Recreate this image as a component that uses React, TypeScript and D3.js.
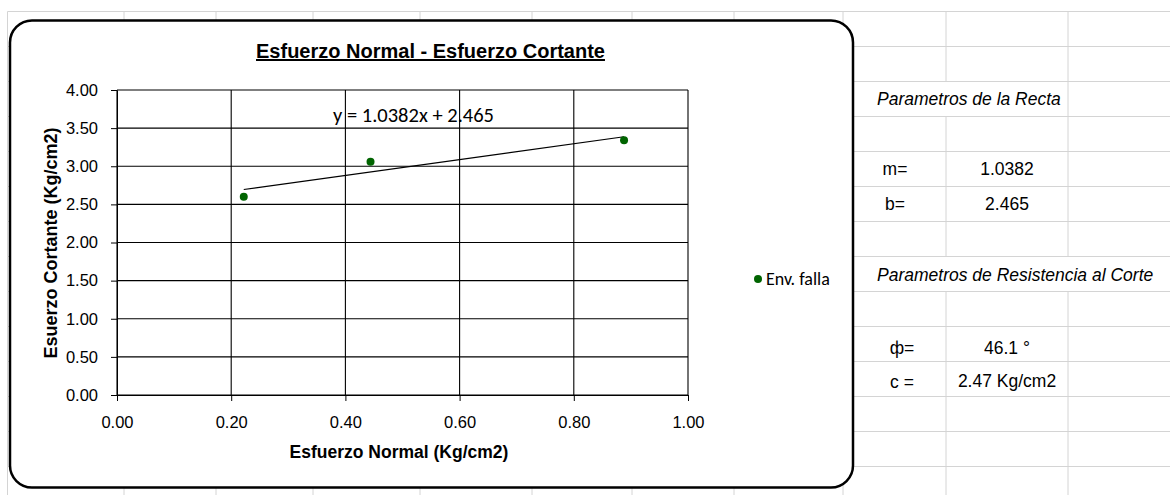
import React, { useEffect, useRef } from 'react'
import * as d3 from 'd3'

// chart data
const normalStress = [0.222, 0.444, 0.888]
const shearStress = [2.6, 3.06, 3.34]
const trendSlope = 1.0382
const trendIntercept = 2.465
const xTicks = [0, 0.2, 0.4, 0.6, 0.8, 1.0]
const yTicks = [0, 0.5, 1.0, 1.5, 2.0, 2.5, 3.0, 3.5, 4.0]

const chartTitle = 'Esfuerzo Normal - Esfuerzo Cortante'
const xTitle = 'Esfuerzo Normal (Kg/cm2)'
const yTitle = 'Esuerzo Cortante (Kg/cm2)'
const seriesName = 'Env. falla'
const trendLabel = 'y = 1.0382x + 2.465'

// sheet cells on the right
const rectaTitle = 'Parametros de la Recta'
const rectaLabels = ['m=', 'b=']
const rectaValues = ['1.0382', '2.465']
const corteTitle = 'Parametros de Resistencia al Corte'
const corteLabels = ['ф=', 'c =']
const corteValues = ['46.1 °', '2.47 Kg/cm2']

const W = 1170
const H = 495
const ARIAL = 'Liberation Sans, Arial, sans-serif'
const CALIBRI = 'Carlito, Lato, sans-serif'

export default function App() {
  const ref = useRef<SVGSVGElement>(null)

  useEffect(() => {
    visualize()
  }, [])

  function visualize() {
    const svg = d3.select(ref.current)
    svg.selectAll('*').remove()

    // spreadsheet grid behind the chart
    const cols = [7.5, 124, 216, 313, 420, 532, 632, 734, 843, 946, 1068]
    const rows = d3.range(14).map(i => 11.5 + i * 35)
    const sheet = svg.append('g').attr('stroke', '#d4d4d4').attr('stroke-width', 1)

    rows.forEach(r => {
      sheet.append('line').attr('x1', 7.5).attr('x2', W).attr('y1', r).attr('y2', r)
    })
    // merged cells hide some column lines
    const skip: Record<number, number[]> = { 946: [2, 7], 1068: [7] }
    cols.forEach(c => {
      const bands = rows.map((r, i) => [r, i < rows.length - 1 ? rows[i + 1] : H, i])
      bands.forEach(([y0, y1, i]) => {
        if (skip[c] && skip[c].includes(i)) return
        sheet.append('line').attr('x1', c).attr('x2', c).attr('y1', y0).attr('y2', y1)
      })
    })

    const txt = (sel, s, x, y, opts: any = {}) =>
      sel.append('text')
        .attr('x', x).attr('y', y)
        .attr('font-family', opts.family || ARIAL)
        .attr('font-size', opts.size || 17.5)
        .attr('font-style', opts.italic ? 'italic' : 'normal')
        .attr('font-weight', opts.bold ? 'bold' : 'normal')
        .attr('text-anchor', opts.anchor || 'start')
        .attr('fill', '#000')
        .text(s)

    const cells = svg.append('g')
    txt(cells, rectaTitle, 877, 105, { italic: true })
    rectaLabels.forEach((l, i) => {
      txt(cells, l, 895, 175 + i * 35, { anchor: 'middle' })
      txt(cells, rectaValues[i], 1007, 175 + i * 35, { anchor: 'middle' })
    })
    txt(cells, corteTitle, 877, 281, { italic: true })
    corteLabels.forEach((l, i) => {
      txt(cells, l, 902, 354 + i * 34, { anchor: 'middle' })
      txt(cells, corteValues[i], 1007, 354 + i * 33, { anchor: 'middle' })
    })

    // chart box
    svg.append('rect')
      .attr('x', 10).attr('y', 20.5)
      .attr('width', 843).attr('height', 467)
      .attr('rx', 22).attr('ry', 22)
      .attr('fill', '#fff')
      .attr('stroke', '#000')
      .attr('stroke-width', 2.5)

    const x = d3.scaleLinear().domain([0, 1]).range([117, 688])
    const y = d3.scaleLinear().domain([0, 4]).range([395, 90])

    const grid = svg.append('g').attr('stroke', '#000').attr('stroke-width', 1.1)
    xTicks.forEach(t => {
      grid.append('line').attr('x1', x(t)).attr('x2', x(t)).attr('y1', y(0)).attr('y2', y(4))
    })
    yTicks.forEach(t => {
      grid.append('line').attr('x1', x(0)).attr('x2', x(1)).attr('y1', y(t)).attr('y2', y(t))
    })

    const fmt = d3.format('.2f')
    const yAxis = svg.append('g')
      .attr('transform', `translate(${x(0)},0)`)
      .call(d3.axisLeft(y).tickValues(yTicks).tickFormat(fmt).tickSize(6).tickSizeOuter(0).tickPadding(13))
    const xAxis = svg.append('g')
      .attr('transform', `translate(0,${y(0)})`)
      .call(d3.axisBottom(x).tickValues(xTicks).tickFormat(fmt).tickSize(6).tickSizeOuter(0).tickPadding(15))
    ;[xAxis, yAxis].forEach(a => {
      a.attr('font-family', ARIAL).attr('font-size', 16.5)
      a.select('.domain').attr('stroke', '#000')
      a.selectAll('.tick line').attr('stroke', '#000')
      a.selectAll('.tick text').attr('fill', '#000')
    })

    // trendline
    const xs = d3.extent(normalStress) as [number, number]
    const line = d3.line<number>().x(d => x(d)).y(d => y(trendSlope * d + trendIntercept))
    svg.append('path')
      .attr('d', line(xs))
      .attr('fill', 'none')
      .attr('stroke', '#000')
      .attr('stroke-width', 1.2)

    svg.append('g').selectAll('circle')
      .data(normalStress)
      .enter().append('circle')
      .attr('cx', d => x(d))
      .attr('cy', (d, i) => y(shearStress[i]))
      .attr('r', 4)
      .attr('fill', '#006400')

    txt(svg, trendLabel, 333, 122, { family: CALIBRI, size: 20.5 })

    // titles
    txt(svg, chartTitle, 430.5, 58, { bold: true, size: 20, anchor: 'middle' })
      .attr('text-decoration', 'underline')
    txt(svg, xTitle, 399, 458, { bold: true, size: 17.5, anchor: 'middle' })
    txt(svg, yTitle, 0, 0, { bold: true, size: 18, anchor: 'middle' })
      .attr('transform', 'translate(56.5,243) rotate(-90)')

    // legend
    svg.append('circle').attr('cx', 758).attr('cy', 279).attr('r', 4).attr('fill', '#006400')
    txt(svg, seriesName, 766, 285, { family: CALIBRI, size: 18 })
  }

  return (
    <svg
      ref={ref}
      width={W}
      height={H}
      style={{ position: 'absolute', left: 0, top: 0, background: '#fff' }}
    />
  )
}
